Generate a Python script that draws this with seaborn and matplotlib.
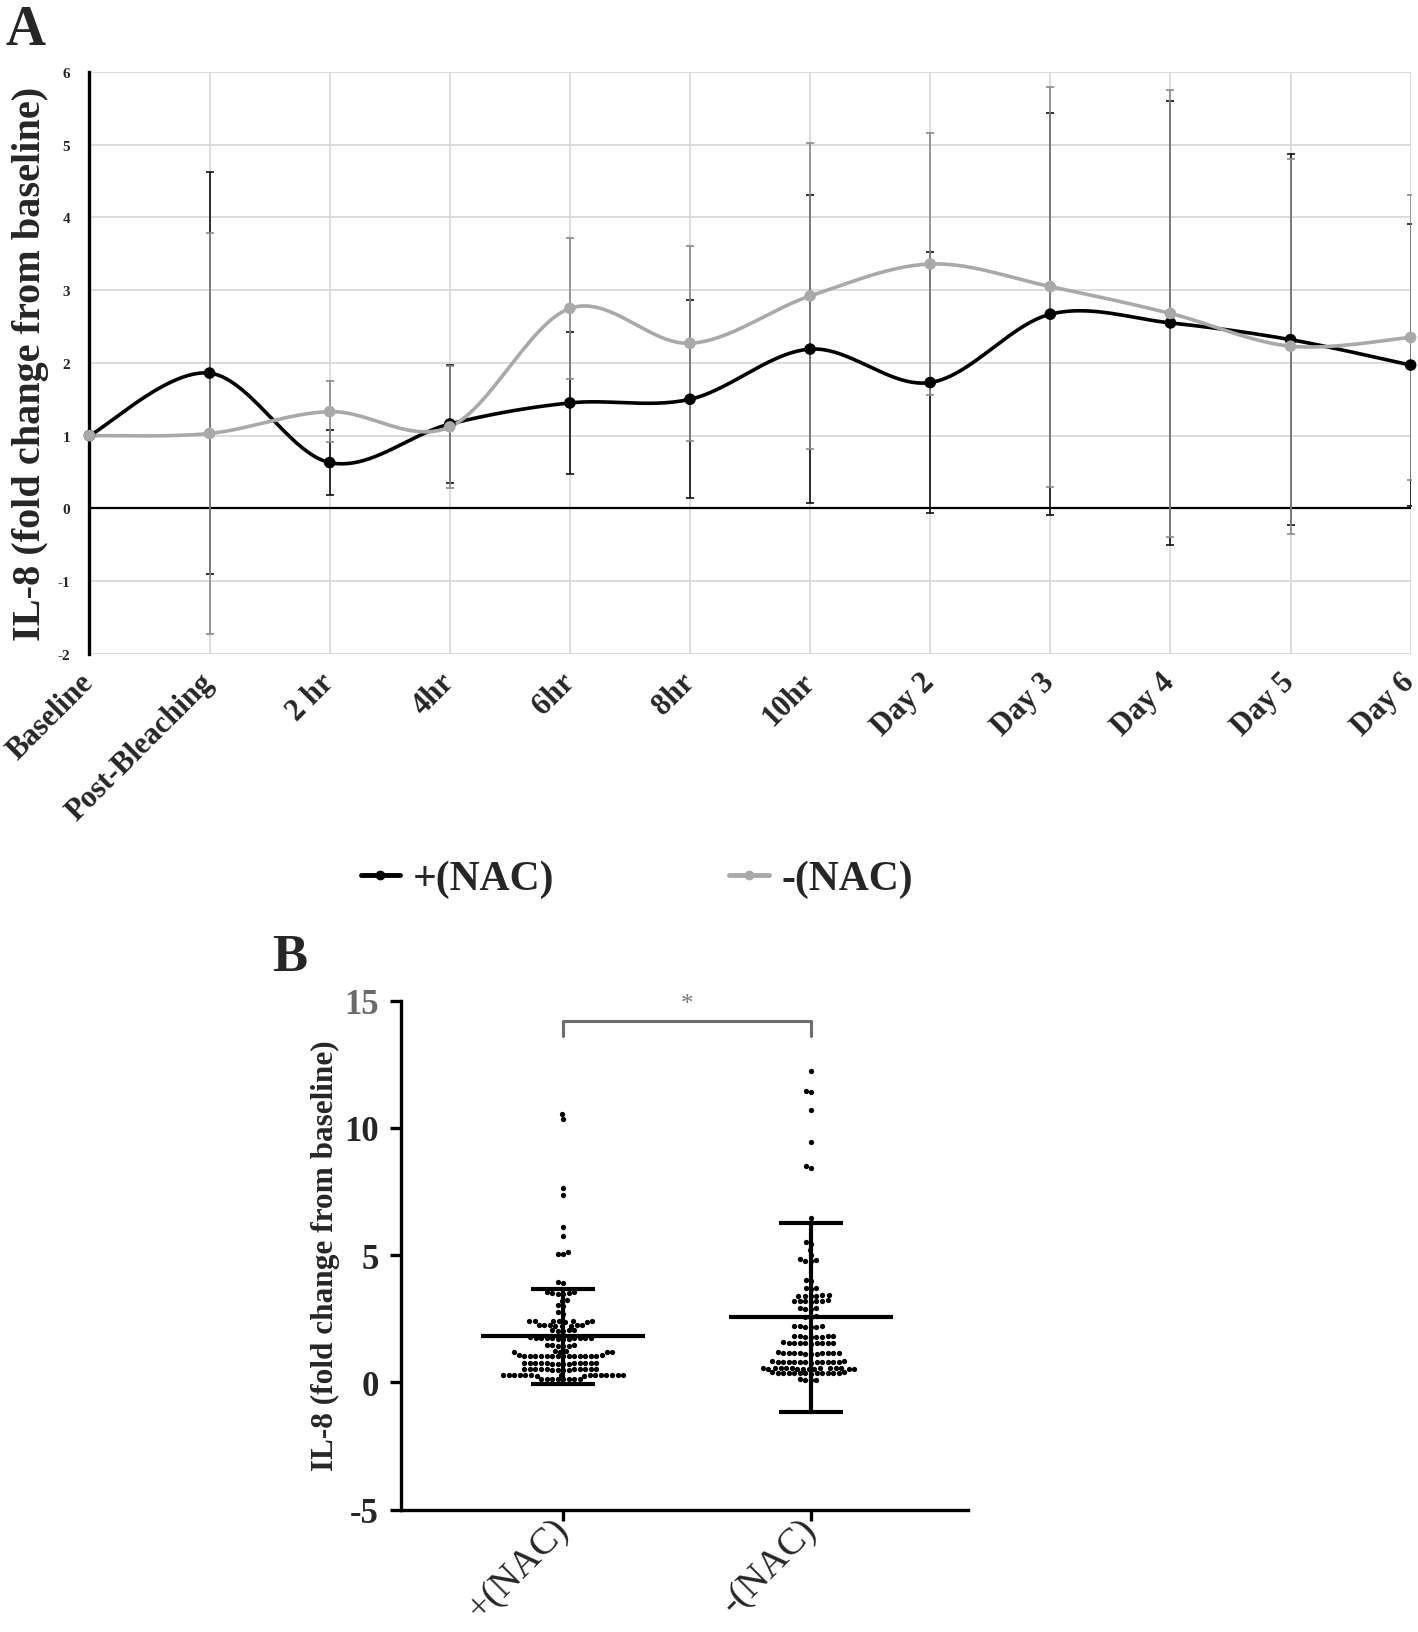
import numpy as np
import pandas as pd
import matplotlib
matplotlib.use('Agg')
import matplotlib.pyplot as plt
import matplotlib.transforms as mtransforms
from matplotlib.lines import Line2D
import seaborn as sns

sns.set_theme(style='white')
plt.rcParams['font.family'] = ['Liberation Serif', 'DejaVu Serif']

# ---- panel A data (fold change, mean and SD per time point) ----
time_labels = ['Baseline', 'Post-Bleaching', '2 hr', '4hr', '6hr', '8hr', '10hr',
               'Day 2', 'Day 3', 'Day 4', 'Day 5', 'Day 6']
nac_pos_mean = [1.00, 1.86, 0.63, 1.16, 1.45, 1.50, 2.19, 1.73, 2.67, 2.55, 2.32, 1.97]
nac_pos_sd = [0.00, 2.76, 0.45, 0.81, 0.98, 1.36, 2.12, 1.80, 2.76, 3.05, 2.55, 1.94]
nac_neg_mean = [1.00, 1.03, 1.33, 1.12, 2.75, 2.27, 2.92, 3.36, 3.05, 2.68, 2.23, 2.35]
nac_neg_sd = [0.00, 2.76, 0.42, 0.84, 0.97, 1.34, 2.11, 1.80, 2.75, 3.07, 2.58, 1.96]

# ---- panel B data (individual fold changes) ----
group_labels = ['+(NAC)', '-(NAC)']
nac_pos_values = [
    10.55, 10.35, 7.65, 7.35, 6.10, 5.75, 5.12, 5.05, 5.05, 3.95, 3.90,
    3.55, 3.53, 3.52, 3.50, 3.48, 3.46,
    3.25, 3.20, 3.05, 3.00, 2.75, 2.70,
    2.42, 2.42, 2.41, 2.40, 2.40, 2.39, 2.38, 2.38,
    2.26, 2.25, 2.25, 2.24, 2.24, 2.23, 2.22, 2.22,
    2.06, 2.05, 2.04, 2.03, 2.02,
    1.76, 1.75, 1.75, 1.74, 1.74, 1.73, 1.73, 1.72, 1.72, 1.71, 1.70, 1.70,
    1.47, 1.46, 1.45, 1.44, 1.43, 1.42,
    1.22, 1.21, 1.20, 1.19, 1.18, 1.17,
    1.06, 1.06, 1.05, 1.05, 1.05, 1.05, 1.04, 1.04, 1.04, 1.04, 1.03, 1.03, 1.03, 1.02, 1.02, 1.02,
    0.76, 0.76, 0.75, 0.75, 0.75, 0.75, 0.74, 0.74, 0.74, 0.74, 0.73, 0.73, 0.73, 0.72,
    0.53, 0.53, 0.52, 0.52, 0.52, 0.52, 0.51, 0.51, 0.51, 0.51, 0.50, 0.50, 0.50, 0.49,
    0.30, 0.30, 0.29, 0.29, 0.29, 0.29, 0.28, 0.28, 0.28, 0.28, 0.27, 0.27, 0.27, 0.27, 0.26, 0.26,
    0.14, 0.14, 0.13, 0.13, 0.13, 0.12, 0.12, 0.11,
]
nac_neg_values = [
    12.25, 11.45, 11.40, 10.70, 9.45, 8.50, 8.40, 6.45,
    5.52, 5.45, 5.20, 5.00, 4.85, 4.80, 4.78, 4.75,
    4.02, 3.98, 3.72, 3.70, 3.66,
    3.42, 3.41, 3.40, 3.40, 3.39, 3.38,
    3.22, 3.21, 3.20, 3.20, 3.19, 3.18, 3.17,
    2.92, 2.90, 2.89, 2.87,
    2.60, 2.57, 2.55,
    2.22, 2.21, 2.20, 2.19, 2.18, 2.17,
    1.82, 1.81, 1.80, 1.80, 1.79, 1.79, 1.78, 1.77,
    1.57, 1.56, 1.56, 1.55, 1.55, 1.54, 1.54, 1.53, 1.53, 1.52,
    1.17, 1.16, 1.16, 1.15, 1.15, 1.15, 1.14, 1.14, 1.14, 1.13, 1.13, 1.12,
    0.82, 0.82, 0.81, 0.81, 0.80, 0.80, 0.80, 0.80, 0.79, 0.79, 0.78, 0.78, 0.78, 0.77,
    0.57, 0.57, 0.56, 0.56, 0.56, 0.55, 0.55, 0.55, 0.55, 0.54, 0.54, 0.54, 0.53, 0.53, 0.53, 0.52,
    0.39, 0.39, 0.38, 0.38, 0.38, 0.37, 0.37, 0.37, 0.36, 0.36, 0.36, 0.35, 0.35, 0.34,
    0.12, 0.10, 0.09, 0.08,
]
group_mean = [1.80, 2.55]
group_sd = [1.85, 3.70]

BLACK = '#000000'
GREY = '#a9a9a9'
GREY_BAR = '#8a8a8a'


def smooth(xs, ys, n=30):
    """excel style smoothed line through the points (bezier, catmull-rom controls)"""
    pts = np.column_stack([xs, ys]).astype(float)
    padded = np.vstack([pts[0], pts, pts[-1]])
    t = np.linspace(0, 1, n)[:, None]
    out = []
    for i in range(len(pts) - 1):
        p0, p1, p2, p3 = padded[i], padded[i + 1], padded[i + 2], padded[i + 3]
        c1 = p1 + (p2 - p0) / 6
        c2 = p2 - (p3 - p1) / 6
        seg = (1 - t) ** 3 * p1 + 3 * (1 - t) ** 2 * t * c1 + 3 * (1 - t) * t ** 2 * c2 + t ** 3 * p2
        out.append(seg if i == 0 else seg[1:])
    return np.vstack(out)


fig = plt.figure(figsize=(14.18, 16.33), dpi=100)

# ================= panel A =================
axA = fig.add_axes([0.0631, 0.599, 0.9317, 0.3563])
x = np.arange(len(time_labels))

axA.set_xlim(0, len(time_labels) - 1)
axA.set_ylim(-2, 6)
axA.set_xticks(x)
axA.set_yticks(range(-2, 7))
axA.grid(True, color='#d9d9d9', lw=1.3)
axA.set_axisbelow(True)
for s in ['top', 'right', 'bottom']:
    axA.spines[s].set_visible(False)
axA.spines['left'].set_color(BLACK)
axA.spines['left'].set_linewidth(2.4)
axA.axhline(0, color=BLACK, lw=1.6, zorder=2)

axA.errorbar(x, nac_pos_mean, yerr=nac_pos_sd, fmt='none', ecolor='#111111',
             elinewidth=1.2, capsize=3, capthick=1.2, zorder=3)
axA.errorbar(x, nac_neg_mean, yerr=nac_neg_sd, fmt='none', ecolor=GREY_BAR,
             elinewidth=1.2, capsize=3, capthick=1.2, zorder=3)

cp = smooth(x, nac_pos_mean)
cn = smooth(x, nac_neg_mean)
axA.plot(cp[:, 0], cp[:, 1], color=BLACK, lw=2.6, zorder=4, clip_on=False)
axA.plot(cn[:, 0], cn[:, 1], color=GREY, lw=2.6, zorder=5, clip_on=False)

dfA = pd.DataFrame({'t': np.concatenate([x, x]),
                    'fold': nac_pos_mean + nac_neg_mean,
                    'grp': ['+(NAC)'] * len(x) + ['-(NAC)'] * len(x)})
sns.scatterplot(data=dfA, x='t', y='fold', hue='grp', palette={'+(NAC)': BLACK, '-(NAC)': GREY},
                s=70, edgecolor='none', legend=False, ax=axA, zorder=6, clip_on=False)

axA.set_xticklabels(time_labels, rotation=45, ha='right', va='center', rotation_mode='anchor',
                    fontsize=22, fontweight='bold')
shift = mtransforms.ScaledTranslation(-0.07, 0.0, fig.dpi_scale_trans)
for lab in axA.get_xticklabels():
    lab.set_transform(lab.get_transform() + shift)
axA.set_yticklabels([str(v) for v in range(-2, 7)], fontsize=11, fontweight='bold')
axA.tick_params(axis='x', length=0, pad=17)
axA.tick_params(axis='y', length=0, pad=14)
axA.set_xlabel('')
axA.set_ylabel('IL-8 (fold change from baseline)', fontsize=29, fontweight='bold')
axA.yaxis.set_label_coords(-0.031, 0.5)

handles = [Line2D([], [], color=BLACK, lw=3.5, marker='o', markersize=6),
           Line2D([], [], color=GREY, lw=3.5, marker='o', markersize=6)]
fig.legend(handles, group_labels, loc='center', bbox_to_anchor=(0.449, 0.461), ncol=2,
           frameon=False, handlelength=0.95, handletextpad=0.3, columnspacing=4.2,
           prop={'family': 'Liberation Serif', 'weight': 'bold', 'size': 30})

fig.text(0.004, 0.997, 'A', fontsize=40, fontweight='bold', va='top', ha='left')

# ================= panel B =================
axB = fig.add_axes([0.2827, 0.075, 0.40, 0.3117])
dfB = pd.DataFrame({'group': ['+(NAC)'] * len(nac_pos_values) + ['-(NAC)'] * len(nac_neg_values),
                    'fold': nac_pos_values + nac_neg_values})
sns.swarmplot(data=dfB, x='group', y='fold', order=group_labels, color=BLACK, size=3.8,
              ax=axB, zorder=3)

# mean line and SD bars
for i, (m, s) in enumerate(zip(group_mean, group_sd)):
    axB.hlines(m, i - 0.33, i + 0.33, color=BLACK, lw=3, zorder=4)
axB.errorbar([0, 1], group_mean, yerr=group_sd, fmt='none', ecolor=BLACK,
             elinewidth=3, capsize=23, capthick=3, zorder=4)

# significance bracket
axB.plot([0, 0, 1, 1], [13.6, 14.2, 14.2, 13.6], color='#6e6e6e', lw=2.2, zorder=2)
axB.text(0.5, 14.45, '*', ha='center', va='bottom', fontsize=18, color='#7a7a7a')

axB.set_xlim(-0.655, 1.634)
axB.set_ylim(-5, 15)
axB.set_yticks([-5, 0, 5, 10, 15])
axB.set_yticklabels(['-5', '0', '5', '10', '15'], fontsize=25, fontweight='bold')
axB.get_yticklabels()[-1].set_color('#6a6a6a')
axB.set_xticks([0, 1])
axB.set_xticklabels(group_labels, rotation=45, ha='right', va='center', rotation_mode='anchor',
                    fontsize=27.5)
for s in ['top', 'right']:
    axB.spines[s].set_visible(False)
for s in ['left', 'bottom']:
    axB.spines[s].set_color(BLACK)
    axB.spines[s].set_linewidth(2.4)
axB.tick_params(axis='both', direction='out', length=8, width=2.4, color=BLACK, left=True, bottom=True)
axB.tick_params(axis='x', pad=2)
axB.tick_params(axis='y', pad=8)
axB.set_xlabel('')
axB.set_ylabel('IL-8 (fold change from baseline)', fontsize=22.5, fontweight='bold')
axB.yaxis.set_label_coords(-0.108, 0.5)

fig.text(0.192, 0.428, 'B', fontsize=38, fontweight='bold', va='top', ha='left')

fig.savefig('out.png', dpi=100)
